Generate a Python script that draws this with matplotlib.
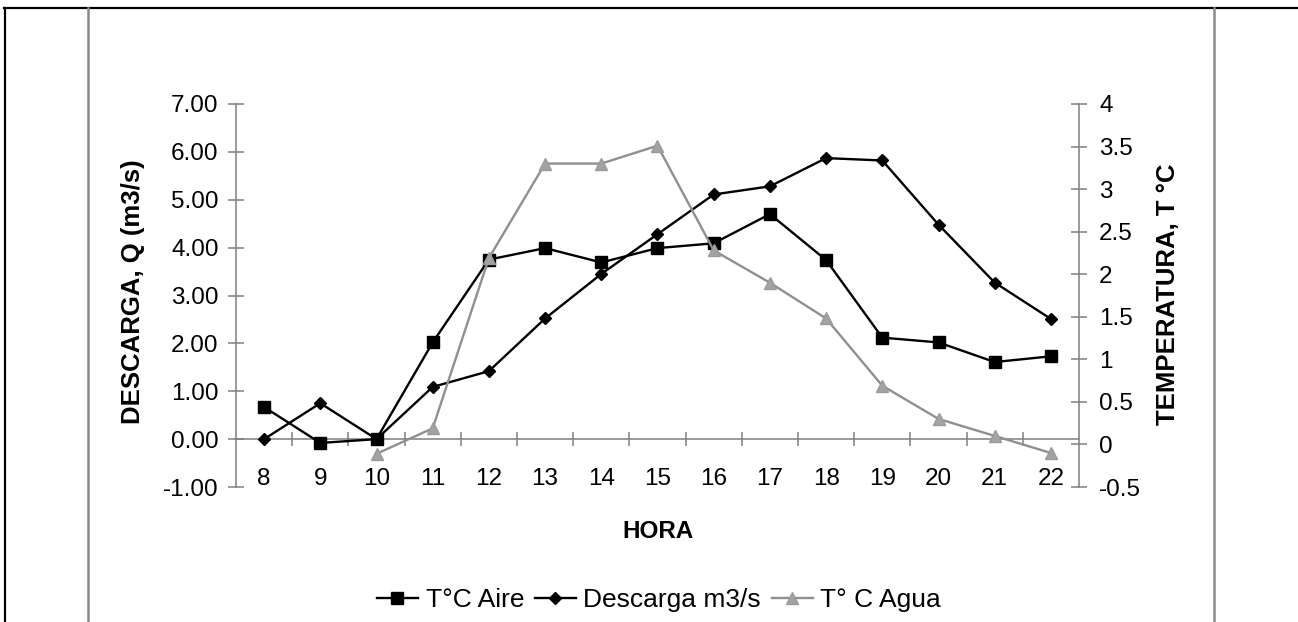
import matplotlib
matplotlib.use("Agg")
import matplotlib.pyplot as plt
from matplotlib.lines import Line2D
from matplotlib.ticker import FixedLocator, FuncFormatter

plt.rcParams['font.family'] = ['Liberation Sans', 'DejaVu Sans']

# Hourly observations
horas = [8, 9, 10, 11, 12, 13, 14, 15, 16, 17, 18, 19, 20, 21, 22]
t_aire = [0.67, -0.08, 0.00, 2.02, 3.75, 3.99, 3.69, 3.99, 4.09, 4.70,
          3.74, 2.12, 2.02, 1.61, 1.73]
descarga = [0.00, 0.75, 0.00, 1.09, 1.42, 2.52, 3.45, 4.28, 5.11, 5.28,
            5.87, 5.82, 4.48, 3.27, 2.51]

# Water temperature is recorded from 10 h onwards
horas_agua = [10, 11, 12, 13, 14, 15, 16, 17, 18, 19, 20, 21, 22]
t_agua = [-0.11, 0.19, 2.19, 3.30, 3.30, 3.51, 2.28, 1.90, 1.48, 0.69,
          0.30, 0.10, -0.10]

left_ticks = [-1, 0, 1, 2, 3, 4, 5, 6, 7]
right_ticks = [-0.5, 0, 0.5, 1, 1.5, 2, 2.5, 3, 3.5, 4]

W, H = 1298, 622
fig = plt.figure(figsize=(W / 100, H / 100), dpi=100)
fig.patch.set_facecolor('white')

x0, x1, ytop, ybot = 236, 1079, 104, 487
ax = fig.add_axes([x0 / W, 1 - ybot / H, (x1 - x0) / W, (ybot - ytop) / H])
ax2 = ax.twinx()

axis_grey = '#7f7f7f'
FS = 17.5

# Primary axis: discharge and air temperature
ax.plot(horas, t_aire, color='black', lw=1.7, marker='s', ms=9.0,
        mfc='black', mec='black', label='T°C Aire', zorder=3)
ax.plot(horas, descarga, color='black', lw=1.7, marker='D', ms=5.8,
        mfc='black', mec='black', label='Descarga m3/s', zorder=3)

# Secondary axis: water temperature
ax2.plot(horas_agua, t_agua, color='#8f8f8f', lw=1.7, marker='^', ms=9.0,
         mfc='#a3a3a3', mec='#9a9a9a', label='T° C Agua', zorder=3)

ax.set_xlim(7.5, 22.5)
ax.set_ylim(-1, 7)
ax2.set_ylim(-0.5, 4)

# Category axis crosses the value axis at zero
for s in ['top', 'right']:
    ax.spines[s].set_visible(False)
ax.spines['bottom'].set_position(('data', 0))
for s in ['top', 'bottom', 'left']:
    ax2.spines[s].set_visible(False)
for sp in [ax.spines['left'], ax.spines['bottom'], ax2.spines['right']]:
    sp.set_color(axis_grey)
    sp.set_linewidth(1.1)

ax.set_xticks(horas)
ax.set_xticklabels([str(h) for h in horas])
ax.xaxis.set_minor_locator(FixedLocator([h + 0.5 for h in horas[:-1]]))
ax.tick_params(axis='x', which='major', length=0, pad=21, labelsize=FS)
ax.tick_params(axis='x', which='minor', direction='inout', length=10,
               width=1.1, color=axis_grey)

ax.set_yticks(left_ticks)
ax.yaxis.set_major_formatter(FuncFormatter(lambda v, p: f"{v:.2f}"))
ax.tick_params(axis='y', direction='inout', length=11, width=1.1,
               color=axis_grey, pad=7, labelsize=FS)

ax2.set_yticks(right_ticks)
ax2.yaxis.set_major_formatter(FuncFormatter(lambda v, p: f"{v:g}"))
ax2.tick_params(axis='y', direction='inout', length=11, width=1.1,
                color=axis_grey, pad=9, labelsize=FS)

# Axis titles
fig.text(133 / W, 1 - 292 / H, 'DESCARGA, Q (m3/s)', rotation=90,
         ha='center', va='center', fontsize=18.5, fontweight='bold')
fig.text(1168 / W, 1 - 294 / H, 'TEMPERATURA, T °C', rotation=90,
         ha='center', va='center', fontsize=18.5, fontweight='bold')
fig.text(657.5 / W, 1 - 532 / H, 'HORA', ha='center', va='center',
         fontsize=17.5, fontweight='bold')

h1, l1 = ax.get_legend_handles_labels()
h2, l2 = ax2.get_legend_handles_labels()
fig.legend(h1 + h2, l1 + l2, loc='center', bbox_to_anchor=(659 / W, 1 - 600 / H),
           ncol=3, frameon=False, fontsize=19, handlelength=1.55,
           handletextpad=0.3, columnspacing=0.4, borderpad=0)

# Page frame around the figure
def px_line(xs, ys, color, lw):
    fig.add_artist(Line2D([x / W for x in xs], [1 - y / H for y in ys],
                          color=color, lw=lw, transform=fig.transFigure))

px_line([4, W], [7.5, 7.5], 'black', 1.6)
px_line([4.5, 4.5], [7.5, H], 'black', 1.6)
px_line([87.5, 87.5], [7.5, H], '#8a8a8a', 1.8)
px_line([1214, 1214], [7.5, H], '#8a8a8a', 1.8)

fig.savefig('out.png', dpi=100, facecolor='white')
